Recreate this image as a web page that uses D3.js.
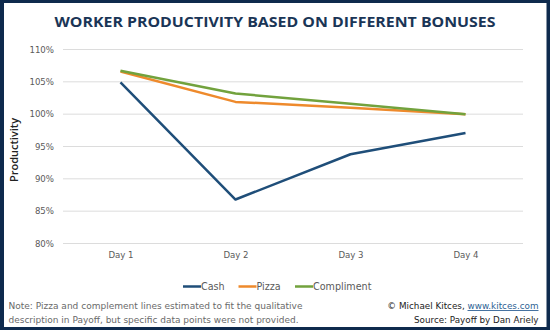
<!DOCTYPE html>
<html>
<head>
<meta charset="utf-8">
<script src="https://cdn.jsdelivr.net/npm/d3@7"></script>
<style>
  body { margin: 0; background: #fff; }
  svg { display: block; }
</style>
</head>
<body>
<svg id="chart" width="550" height="330"></svg>
<script>
// data
const days = ["Day 1", "Day 2", "Day 3", "Day 4"];
const cash = [1.049, 0.868, 0.938, 0.971];
const pizza = [1.066, 1.019, 1.010, 1.000];
const compliment = [1.067, 1.032, 1.016, 1.000];
const yTicks = [0.80, 0.85, 0.90, 0.95, 1.00, 1.05, 1.10];

const seriesList = [
  { name: "Cash", values: cash, color: "#1f4e79" },
  { name: "Pizza", values: pizza, color: "#ee8a2c" },
  { name: "Compliment", values: compliment, color: "#72a23d" }
];

const svg = d3.select("#chart");
const W = 550, H = 330;
const navy = "#0e2a4d";
const font = "'DejaVu Sans', sans-serif";

// frame
svg.append("rect").attr("width", W).attr("height", H).attr("fill", navy);
svg.append("rect")
  .attr("x", 4).attr("y", 3)
  .attr("width", W - 7.5).attr("height", H - 6)
  .attr("fill", "#fff");

// title
svg.append("text")
  .attr("x", 275).attr("y", 26.5)
  .attr("text-anchor", "middle")
  .attr("font-family", "'Open Sans', sans-serif")
  .attr("font-weight", "bold")
  .attr("font-size", "14px")
  .attr("fill", "#1a3556")
  .attr("textLength", 441)
  .attr("lengthAdjust", "spacingAndGlyphs")
  .text("WORKER PRODUCTIVITY BASED ON DIFFERENT BONUSES");

const plotL = 63, plotR = 523, plotT = 49.5, plotB = 243.5;

const x = d3.scalePoint().domain(days).range([plotL, plotR]).padding(0.5);
const y = d3.scaleLinear().domain([0.8, 1.1]).range([plotB, plotT]);

// gridlines
svg.append("g")
  .selectAll("line")
  .data(yTicks)
  .join("line")
  .attr("x1", plotL).attr("x2", plotR)
  .attr("y1", d => y(d)).attr("y2", d => y(d))
  .attr("stroke", "#dcdcdc")
  .attr("stroke-width", 1);

// y axis labels
const yAxis = d3.axisLeft(y)
  .tickValues(yTicks)
  .tickFormat(d3.format(".0%"))
  .tickSize(0)
  .tickPadding(0);

svg.append("g")
  .attr("transform", `translate(54,0)`)
  .call(yAxis)
  .call(g => g.select(".domain").remove())
  .call(g => g.selectAll("text")
    .attr("font-family", font)
    .attr("font-size", "8.6px")
    .attr("fill", "#5a5a5a"));

// x axis labels
const xAxis = d3.axisBottom(x).tickSize(0).tickPadding(0);
svg.append("g")
  .attr("transform", `translate(0,252)`)
  .call(xAxis)
  .call(g => g.select(".domain").remove())
  .call(g => g.selectAll("text")
    .attr("font-family", font)
    .attr("font-size", "8.6px")
    .attr("fill", "#5a5a5a"));

// y title
svg.append("text")
  .attr("transform", "translate(18,150) rotate(-90)")
  .attr("text-anchor", "middle")
  .attr("font-family", "'Open Sans', sans-serif")
  .attr("font-weight", "600")
  .attr("font-size", "11px")
  .attr("fill", "#222")
  .text("Productivity");

// lines
const line = d3.line()
  .x((d, i) => x(days[i]))
  .y(d => y(d));

svg.append("g")
  .selectAll("path")
  .data(seriesList)
  .join("path")
  .attr("d", d => line(d.values))
  .attr("fill", "none")
  .attr("stroke", d => d.color)
  .attr("stroke-width", 2.5)
  .attr("stroke-linejoin", "round");

// legend
const legendX = [183, 238.5, 295];
const legend = svg.append("g")
  .selectAll("g")
  .data(seriesList)
  .join("g")
  .attr("transform", (d, i) => `translate(${legendX[i]},286.5)`);

legend.append("line")
  .attr("x1", 0).attr("x2", 18)
  .attr("stroke", d => d.color)
  .attr("stroke-width", 2.5);

legend.append("text")
  .attr("x", 18)
  .attr("dy", "0.35em")
  .attr("font-family", font)
  .attr("font-size", "9.6px")
  .attr("fill", "#5a5a5a")
  .text(d => d.name);

// footnotes
const note = svg.append("text")
  .attr("font-family", font)
  .attr("font-size", "8.2px")
  .attr("fill", "#6a6a6a");
note.append("tspan").attr("x", 8.5).attr("y", 309)
  .attr("textLength", 294).attr("lengthAdjust", "spacingAndGlyphs")
  .text("Note: Pizza and complement lines estimated to fit the qualitative");
note.append("tspan").attr("x", 8.5).attr("y", 322.5)
  .attr("textLength", 290).attr("lengthAdjust", "spacingAndGlyphs")
  .text("description in Payoff, but specific data points were not provided.");

const credit = svg.append("text")
  .attr("text-anchor", "end")
  .attr("font-family", font)
  .attr("font-size", "8.8px")
  .attr("fill", "#222");
const c1 = credit.append("tspan").attr("x", 538.5).attr("y", 309);
c1.append("tspan").text("© Michael Kitces, ");
c1.append("tspan").attr("fill", "#2d5f93").attr("text-decoration", "underline").text("www.kitces.com");
credit.append("tspan").attr("x", 538.5).attr("y", 322.5)
  .attr("textLength", 124.5).attr("lengthAdjust", "spacingAndGlyphs")
  .text("Source: Payoff by Dan Ariely");
</script>
</body>
</html>
